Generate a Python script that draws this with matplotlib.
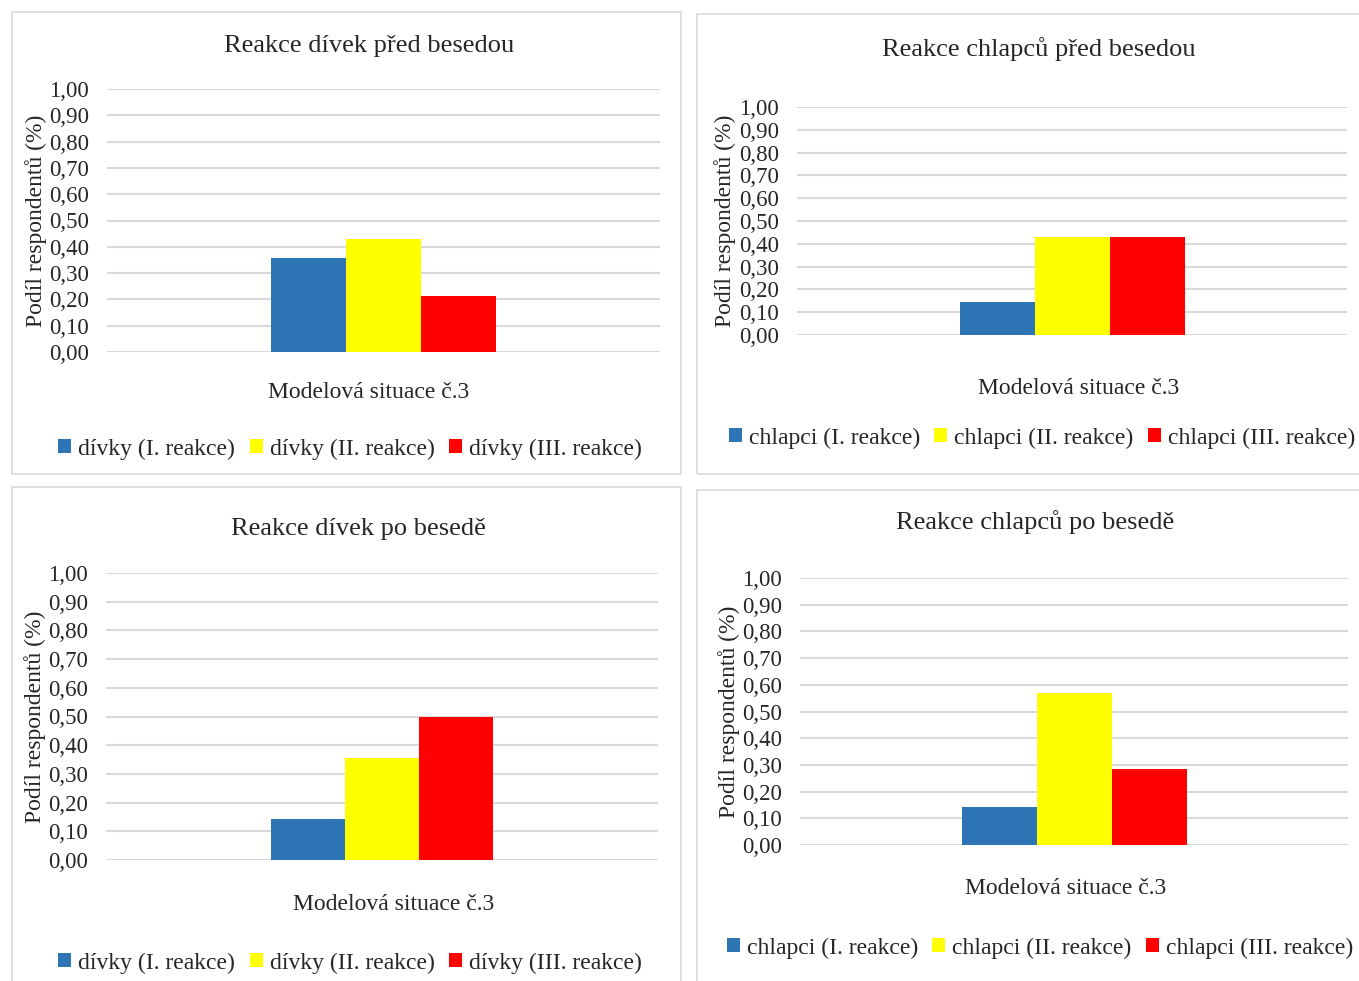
import matplotlib
matplotlib.use("Agg")
import matplotlib.pyplot as plt
from matplotlib.patches import Rectangle, Patch
from matplotlib.ticker import FuncFormatter

# ---- data ----
category = "Modelová situace č.3"
series_girls = ["dívky (I. reakce)", "dívky (II. reakce)", "dívky (III. reakce)"]
series_boys = ["chlapci (I. reakce)", "chlapci (II. reakce)", "chlapci (III. reakce)"]
girls_before = [0.357, 0.429, 0.214]
boys_before = [0.143, 0.429, 0.429]
girls_after = [0.143, 0.357, 0.500]
boys_after = [0.143, 0.571, 0.286]
titles = ["Reakce dívek před besedou", "Reakce chlapců před besedou",
          "Reakce dívek po besedě", "Reakce chlapců po besedě"]
ylabel = "Podíl respondentů (%)"
yticks = [0.0, 0.1, 0.2, 0.3, 0.4, 0.5, 0.6, 0.7, 0.8, 0.9, 1.0]
colors = ["#2E75B6", "#FFFF00", "#FF0000"]

W, H = 1359, 981
TXT = "#262626"
plt.rcParams['font.family'] = ['Liberation Serif', 'DejaVu Serif']
fig = plt.figure(figsize=(W / 100, H / 100), dpi=100)

def fx(x):
    return x / W

def fy(y):
    return 1 - y / H

# panel layout in pixels: border box, plot box, title, xlabel, legend center, ylabel right edge
panels = [
    dict(border=(12, 12, 681, 474), plot=(107, 89, 660, 352), title=(369, 46),
         xlab=(369, 393), leg=(350, 449), ylab_x=47, bar_w=75),
    dict(border=(697, 14, 1370, 474), plot=(797, 107, 1347, 335), title=(1039, 49),
         xlab=(1079, 388), leg=(1042, 438), ylab_x=736, bar_w=75),
    dict(border=(12, 487, 681, 995), plot=(106, 573, 658, 860), title=(358, 529),
         xlab=(394, 905), leg=(350, 963), ylab_x=46, bar_w=74),
    dict(border=(697, 490, 1370, 995), plot=(800, 578, 1348, 845), title=(1035, 522),
         xlab=(1066, 889), leg=(1040, 948), ylab_x=740, bar_w=75),
]
datasets = [(girls_before, series_girls), (boys_before, series_boys),
            (girls_after, series_girls), (boys_after, series_boys)]

fmt = FuncFormatter(lambda v, p: f"{v:.2f}".replace(".", ","))

for i, (pan, (vals, names)) in enumerate(zip(panels, datasets)):
    bx0, by0, bx1, by1 = pan["border"]
    fig.patches.append(Rectangle((fx(bx0), fy(by1)), fx(bx1 - bx0), (by1 - by0) / H,
                                 transform=fig.transFigure, fill=False,
                                 edgecolor="#d9d9d9", lw=1.2))
    px0, py0, px1, py1 = pan["plot"]
    ax = fig.add_axes([fx(px0), fy(py1), fx(px1 - px0), (py1 - py0) / H])
    w = pan["bar_w"] / (px1 - px0)
    offsets = [-w, 0, w]
    handles = []
    for v, off, c, n in zip(vals, offsets, colors, names):
        ax.bar(off, v, width=w, color=c, zorder=3)
        handles.append(Patch(facecolor=c, label=n))
    ax.set_xlim(-0.5, 0.5)
    ax.set_ylim(0, 1)
    ax.set_yticks(yticks)
    ax.yaxis.set_major_formatter(fmt)
    ax.grid(axis="y", color="#d9d9d9", lw=1.5, zorder=0)
    ax.set_axisbelow(True)
    for s in ax.spines.values():
        s.set_visible(False)
    ax.set_xticks([])
    ax.tick_params(axis="y", length=0, pad=13, labelsize=16.5, labelcolor=TXT)
    ax.set_ylabel(ylabel, fontsize=17, color=TXT)
    ax.yaxis.set_label_coords((pan["ylab_x"] - px0) / (px1 - px0), 0.5)
    fig.text(fx(pan["title"][0]), fy(pan["title"][1]), titles[i], ha="center",
             va="center", fontsize=19, color=TXT)
    fig.text(fx(pan["xlab"][0]), fy(pan["xlab"][1]), category, ha="center",
             va="center", fontsize=17, color=TXT)
    fig.legend(handles=handles, loc="center", ncol=3,
               bbox_to_anchor=(fx(pan["leg"][0]), fy(pan["leg"][1])),
               frameon=False, fontsize=17, handlelength=0.55, handleheight=0.55,
               handletextpad=0.3, columnspacing=0.6, labelcolor=TXT)

fig.savefig("out.png", dpi=100, facecolor="white")
